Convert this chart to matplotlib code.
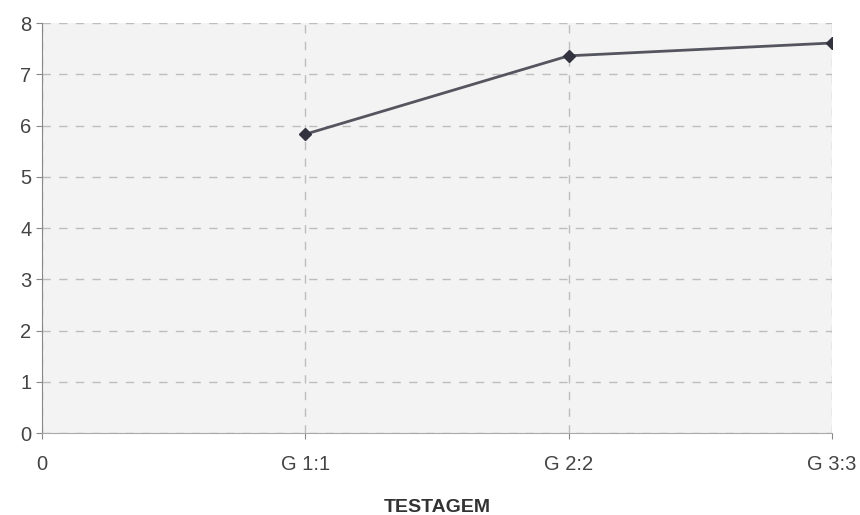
import matplotlib.pyplot as plt

plt.rcParams['font.family'] = ['Liberation Sans', 'DejaVu Sans']

categorias = ['0', 'G 1:1', 'G 2:2', 'G 3:3']
x_pontos = [1, 2, 3]
valores = [5.83, 7.36, 7.61]
y_ticks = [0, 1, 2, 3, 4, 5, 6, 7, 8]

fig = plt.figure(figsize=(8.6, 5.15), dpi=100)
ax = fig.add_axes([0.0488, 0.1592, 0.9186, 0.7961])
ax.set_facecolor('#f3f3f3')

ax.plot(x_pontos, valores, color='#555560', linewidth=2, marker='D', markersize=6,
        markerfacecolor='#333340', markeredgecolor='#333340', zorder=3)

ax.set_xlim(0, 3)
ax.set_ylim(0, 8)
ax.set_xticks(range(len(categorias)))
ax.set_xticklabels(categorias)
ax.set_yticks(y_ticks)
ax.grid(True, linestyle=(0, (6, 6)), color='#bdbdbd', linewidth=1)

for lado in ['top', 'right']:
    ax.spines[lado].set_visible(False)
ax.spines['left'].set_color('#888888')
ax.spines['bottom'].set_color('#aaaaaa')
ax.tick_params(axis='both', colors='#888888', labelcolor='#444444', labelsize=14.5, length=4)
ax.tick_params(axis='x', pad=12)

ax.set_xlabel('TESTAGEM', fontsize=14, fontweight='bold', color='#333333', labelpad=18)

fig.savefig('out.png', dpi=100)
